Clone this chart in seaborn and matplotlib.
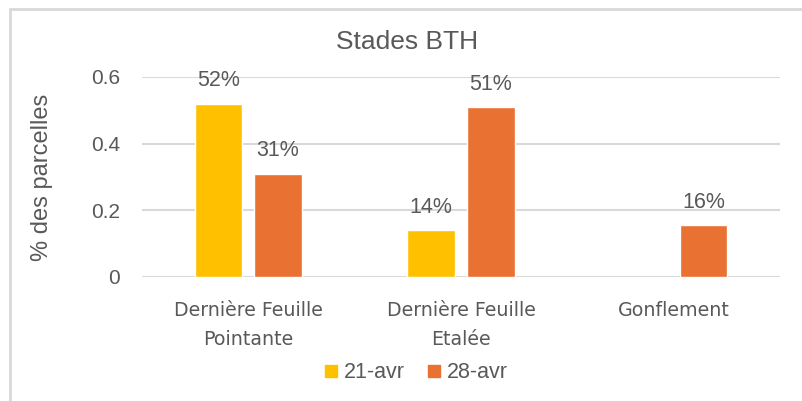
import pandas as pd
import numpy as np
import matplotlib.pyplot as plt
import seaborn as sns
from matplotlib.lines import Line2D
from matplotlib.ticker import FuncFormatter

stades = ['Dernière Feuille\nPointante', 'Dernière Feuille\nEtalée', 'Gonflement']
dates = ['21-avr', '28-avr']
val_21avr = [0.52, 0.14, np.nan]
val_28avr = [0.31, 0.51, 0.156]
couleurs = ['#FFC000', '#E97132']

GRIS = '#595959'
GRILLE = '#D9D9D9'

df = pd.DataFrame({
    'stade': stades * 2,
    'date': [dates[0]] * 3 + [dates[1]] * 3,
    'valeur': val_21avr + val_28avr,
})

sns.set_style('white')
plt.rcParams['font.family'] = ['Liberation Sans', 'DejaVu Sans']

fig = plt.figure(figsize=(8.02, 4.01), dpi=100)
ax = fig.add_axes([142 / 802, 1 - 277 / 401, 638 / 802, 200 / 401])

sns.barplot(data=df, x='stade', y='valeur', hue='date', order=stades,
            hue_order=dates, palette=couleurs, width=0.56, gap=0.2,
            saturation=1, ax=ax, legend=False)

for c in ax.containers:
    ax.bar_label(c, fmt=lambda v: f'{v:.0%}', padding=9, fontsize=15.5, color=GRIS)

ax.set_ylim(0, 0.6)
ax.set_xlim(-0.5, 2.5)
ax.set_yticks([0, 0.2, 0.4, 0.6])
ax.yaxis.set_major_formatter(FuncFormatter(lambda v, p: f'{v:g}'))
ax.grid(axis='y', color=GRILLE, linewidth=1.5)
ax.set_axisbelow(True)
sns.despine(ax=ax, left=True, bottom=True)
ax.tick_params(axis='y', length=0, pad=16, labelsize=15, labelcolor=GRIS)
ax.tick_params(axis='x', length=0, pad=17, labelsize=13.7, labelcolor=GRIS)
for t in ax.get_xticklabels():
    t.set_linespacing(1.7)
    t.set_fontfamily(['DejaVu Sans'])

ax.set_xlabel('')
ax.set_ylabel('% des parcelles', fontsize=17, color=GRIS)
ax.yaxis.set_label_coords(-0.14, 0.5)

fig.text(407 / 802, 1 - 42 / 401, 'Stades BTH', ha='center', va='center',
         fontsize=19, color=GRIS)

handles = [Line2D([], [], marker='s', linestyle='', markersize=9,
                  color=c) for c in couleurs]
fig.legend(handles, dates, loc='center', bbox_to_anchor=(416 / 802, 1 - 373 / 401),
           ncol=2, frameon=False, fontsize=15.5, labelcolor=GRIS,
           handlelength=0.7, handletextpad=0.25, columnspacing=1.0)

# cadre du graphique
fig.add_artist(Line2D([10 / 802, 10 / 802], [0, 1 - 9 / 401], color=GRILLE,
                      linewidth=2, transform=fig.transFigure))
fig.add_artist(Line2D([10 / 802, 1], [1 - 9 / 401, 1 - 9 / 401], color=GRILLE,
                      linewidth=2, transform=fig.transFigure))

plt.savefig('out.png', dpi=100)
